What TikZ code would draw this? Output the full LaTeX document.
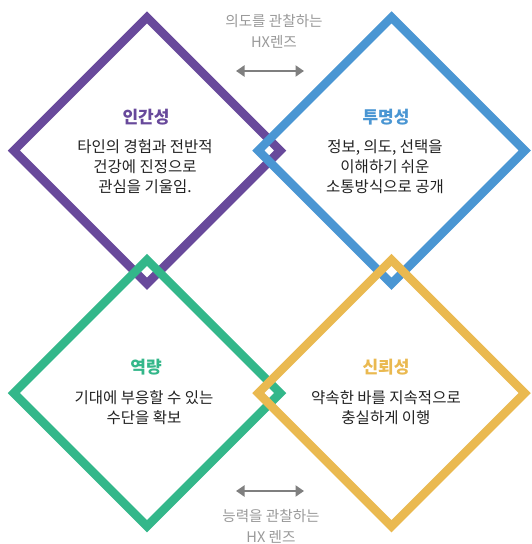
\documentclass[tikz,border=0pt]{standalone}
\usepackage{fontspec}
\setmainfont{Noto Sans CJK KR}
\usetikzlibrary{shapes.geometric,arrows.meta}
\definecolor{cpurple}{HTML}{68499B}
\definecolor{cblue}{HTML}{4A96D3}
\definecolor{cgreen}{HTML}{33B78A}
\definecolor{cyellow}{HTML}{EAB950}
\definecolor{ctext}{HTML}{222222}
\definecolor{cgray}{HTML}{9A9A9A}
\definecolor{carrow}{HTML}{7F7F7F}
\begin{document}
\begin{tikzpicture}[x=1pt,y=-1pt,
  frame/.style={diamond, draw=#1, line width=8.5pt, minimum width=270pt, minimum height=270pt, inner sep=0pt, aspect=1, line join=miter},
  title/.style={text=#1, font=\fontsize{17}{19}\selectfont\bfseries, inner sep=0pt},
  body/.style={text=ctext, font=\fontsize{15.5}{20}\selectfont, align=center, inner sep=0pt},
  lens/.style={text=cgray, font=\fontsize{14.6}{21}\selectfont, align=center, inner sep=0pt},
  lensarrow/.style={draw=carrow, line width=2.8pt, {Triangle[length=8.5pt,width=11pt]}-{Triangle[length=8.5pt,width=11pt]}}
]
\useasboundingbox (0,0) rectangle (531,544);
\fill[white] (0,0) rectangle (531,544);
\node[frame=cpurple] (dp) at (147,150.5) {};
\node[frame=cblue] (db) at (391.5,150.5) {};
\node[frame=cgreen] (dg) at (147,393) {};
\node[frame=cyellow] (dy) at (391.5,393) {};

\node[title=cpurple] (tp) at (146,117) {인간성};
\node[body] (bp) at (145,167) {타인의 경험과 전반적\\건강에 진정으로\\관심을 기울임.};
\node[title=cblue] (tb) at (386,117) {투명성};
\node[body] (bb) at (385,167) {정보, 의도, 선택을\\이해하기 쉬운\\소통방식으로 공개};
\node[title=cgreen] (tg) at (146,367) {역량};
\node[body] (bg) at (144,408) {기대에 부응할 수 있는\\수단을 확보};
\node[title=cyellow] (ty) at (386,367) {신뢰성};
\node[body] (by) at (386,408) {약속한 바를 지속적으로\\충실하게 이행};

\node[lens] (lt) at (274,31.5) {의도를 관찰하는\\HX렌즈};
\coordinate (at1) at (236,71);
\coordinate (at2) at (304,71);
\draw[lensarrow] (at1) -- (at2);
\coordinate (ab1) at (236,491);
\coordinate (ab2) at (304,491);
\draw[lensarrow] (ab1) -- (ab2);
\node[lens] (lb) at (271,526.5) {능력을 관찰하는\\HX 렌즈};
\end{tikzpicture}
\end{document}
